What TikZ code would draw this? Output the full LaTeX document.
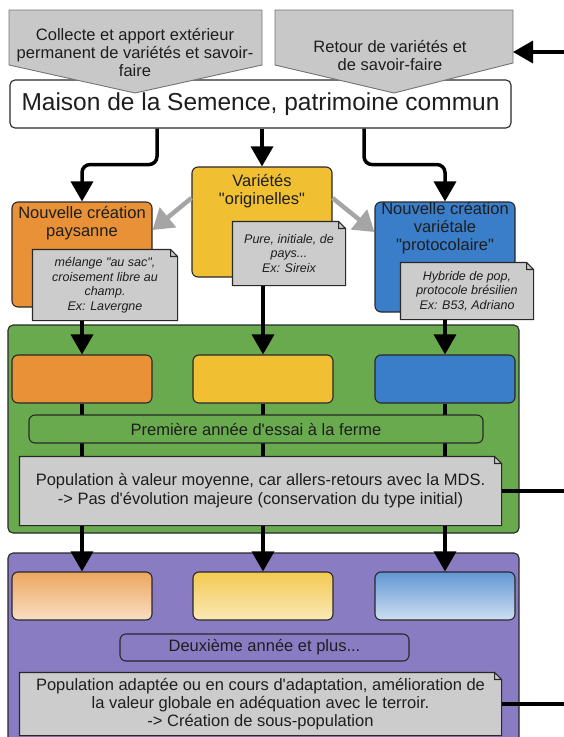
\documentclass[tikz,border=0pt]{standalone}
\usepackage{fontspec}
\setmainfont{Liberation Sans}[Ligatures=TeXOff]
\usetikzlibrary{arrows.meta, positioning, calc}

\definecolor{boxorange}{RGB}{232,145,55}
\definecolor{boxyellow}{RGB}{240,192,50}
\definecolor{boxblue}{RGB}{58,125,200}
\definecolor{panelgreen}{RGB}{106,170,78}
\definecolor{panelpurple}{RGB}{138,124,194}
\definecolor{notegrey}{RGB}{204,204,204}
\definecolor{pentagrey}{RGB}{200,200,200}
\definecolor{arrowgrey}{RGB}{165,165,165}
\definecolor{edge}{RGB}{40,40,40}
\definecolor{ink}{RGB}{30,30,30}

\makeatletter
\pgfdeclareshape{dogear}{
  \inheritsavedanchors[from=rectangle]
  \inheritanchorborder[from=rectangle]
  \inheritanchor[from=rectangle]{center}
  \inheritanchor[from=rectangle]{north}
  \inheritanchor[from=rectangle]{south}
  \inheritanchor[from=rectangle]{east}
  \inheritanchor[from=rectangle]{west}
  \inheritanchor[from=rectangle]{north east}
  \inheritanchor[from=rectangle]{north west}
  \inheritanchor[from=rectangle]{south east}
  \inheritanchor[from=rectangle]{south west}
  \backgroundpath{
    \southwest \pgf@xa=\pgf@x \pgf@ya=\pgf@y
    \northeast \pgf@xb=\pgf@x \pgf@yb=\pgf@y
    \pgf@xc=\pgf@xb \advance\pgf@xc by -7pt
    \pgf@yc=\pgf@yb \advance\pgf@yc by -7pt
    \pgfpathmoveto{\pgfqpoint{\pgf@xa}{\pgf@ya}}
    \pgfpathlineto{\pgfqpoint{\pgf@xb}{\pgf@ya}}
    \pgfpathlineto{\pgfqpoint{\pgf@xb}{\pgf@yc}}
    \pgfpathlineto{\pgfqpoint{\pgf@xc}{\pgf@yb}}
    \pgfpathlineto{\pgfqpoint{\pgf@xa}{\pgf@yb}}
    \pgfpathclose
    \pgfpathmoveto{\pgfqpoint{\pgf@xc}{\pgf@yb}}
    \pgfpathlineto{\pgfqpoint{\pgf@xc}{\pgf@yc}}
    \pgfpathlineto{\pgfqpoint{\pgf@xb}{\pgf@yc}}
  }
}
\makeatother

\tikzset{
  base/.style={font=\fontsize{16.5}{18}\selectfont, text=ink, align=center, inner sep=0pt},
  house/.style={base, draw=edge, fill=white, line width=1.1pt, rounded corners=5pt,
    minimum width=501pt, minimum height=48pt, font=\fontsize{24.5}{28}\selectfont},
  penta/.style={fill=pentagrey, draw=black!55, line width=0.9pt},
  panel/.style={draw=edge, line width=1.1pt, rounded corners=5pt, minimum width=511pt, inner sep=0pt},
  box/.style={draw=edge, line width=1.1pt, rounded corners=6pt, minimum width=140pt, inner sep=0pt},
  rowbox/.style={box, minimum height=48pt},
  bar/.style={base, draw=edge, line width=1.1pt, rounded corners=6pt, minimum height=28pt},
  note/.style={shape=dogear, draw=edge, line width=1.1pt, fill=notegrey, align=center, inner sep=0pt, text=ink},
  smallnote/.style={note, font=\fontsize{12.5}{14.5}\selectfont\itshape},
  bignote/.style={note, font=\fontsize{16.5}{19}\selectfont},
  flow/.style={line width=3.5pt, -{Triangle[width=22pt,length=20pt]}, rounded corners=8pt},
  sideflow/.style={draw=arrowgrey, line width=4.5pt, -{Triangle[width=25pt,length=20pt]}},
  link/.style={line width=3.5pt}
}

\begin{document}
\begin{tikzpicture}[x=1pt, y=-1pt]
\useasboundingbox (0,0) rectangle (563,737);

\node[house] (maison) at (260.5,104) {Maison de la Semence, patrimoine commun};
\filldraw[penta] (9,10) -- (262,10) -- (262,65) -- (135,93) -- (9,65) -- cycle;
\filldraw[penta] (275,10) -- (513,10) -- (513,63) -- (394,93) -- (275,65) -- cycle;
\node[base] (collecte) at (135,53) {Collecte et apport extérieur\\permanent de variétés et savoir-\\faire};
\node[base] (retour) at (390,56) {Retour de variétés et\\de savoir-faire};
\coordinate (retourEdge) at (513,52);
\coordinate (backTop) at (575,52);
\draw[flow] (backTop) -- (retourEdge);

\node[panel, fill=panelgreen, minimum height=208pt] (annee1) at (263.5,429) {};
\node[panel, fill=panelpurple, minimum height=192pt] (annee2) at (263.5,649) {};

% variétés
\node[box, fill=boxorange, minimum height=105pt] (orangeBox) at (82,254.5) {};
\node[box, fill=boxyellow, minimum height=110pt] (yellowBox) at (262,222) {};
\node[box, fill=boxblue, minimum height=110pt] (blueBox) at (445,257) {};
\node[base, anchor=north, below=5pt of orangeBox.north] (orangeTitle) {Nouvelle création\\paysanne};
\node[base, anchor=north, below=8pt of yellowBox.north] (yellowTitle) {Variétés\\"originelles"};
\node[base, anchor=north, below=1pt of blueBox.north] (blueTitle) {Nouvelle création\\variétale\\"protocolaire"};

\draw[flow] ([xshift=-103.5pt]maison.south) -- ++(0,36) -| (orangeBox.north);
\draw[flow] (maison.south -| yellowBox.north) -- (yellowBox.north);
\draw[flow] ([xshift=103.5pt]maison.south) -- ++(0,36) -| (blueBox.north);

\draw[sideflow] ([yshift=24pt]yellowBox.west) -- ([yshift=24.5pt]orangeBox.east);
\draw[sideflow] ([yshift=24pt]yellowBox.east) -- ([yshift=25pt]blueBox.west);

\node[smallnote, minimum width=144pt, minimum height=70pt] (orangeNote) at (105,285)
  {mélange "au sac",\\croisement libre au\\champ.\\Ex: Lavergne};
\node[smallnote, minimum width=112pt, minimum height=63pt] (yellowNote) at (289,253.5)
  {Pure, initiale, de\\pays...\\Ex: Sireix};
\node[smallnote, minimum width=132pt, minimum height=56pt] (blueNote) at (467,291)
  {Hybride de pop,\\protocole brésilien\\Ex: B53, Adriano};

% première année
\node[rowbox, fill=boxorange] (orangeRowA) at (82,379) {};
\node[rowbox, fill=boxyellow] (yellowRowA) at (263,379) {};
\node[rowbox, fill=boxblue] (blueRowA) at (445,379) {};

% deuxième année
\node[rowbox, top color=boxorange!80!white, bottom color=boxorange!30!white] (orangeRowB) at (82,596) {};
\node[rowbox, top color=boxyellow!85!white, bottom color=boxyellow!35!white] (yellowRowB) at (263,596) {};
\node[rowbox, top color=boxblue!80!white, bottom color=boxblue!25!white] (blueRowB) at (445,596) {};

\foreach \col in {orange,yellow,blue}{
  \draw[flow] (\col Note.south -| \col RowA.north) -- (\col RowA.north);
  \draw[flow] (\col RowA.south) -- (\col RowB.north);
}

\node[bar, fill=panelgreen, minimum width=454pt] (essai1) at (256,429) {Première année d'essai à la ferme};
\node[bignote, minimum width=481pt, minimum height=68pt] (bilan1) at (260.5,491)
  {Population à valeur moyenne, car allers-retours avec la MDS.\\-> Pas d'évolution majeure (conservation du type initial)};
\coordinate (backA) at (575,491);
\draw[link] (bilan1.east) -- (backA);

\node[bar, fill=panelpurple, minimum width=289pt, minimum height=27pt] (essai2) at (264.5,647.5) {Deuxième année et plus...};
\node[bignote, minimum width=481pt, minimum height=62pt, font=\fontsize{16.5}{18}\selectfont] (bilan2) at (260.5,704)
  {Population adaptée ou en cours d'adaptation, amélioration de\\la valeur globale en adéquation avec le terroir.\\-> Création de sous-population};
\coordinate (backB) at (575,704);
\draw[link] (bilan2.east) -- (backB);
\end{tikzpicture}
\end{document}
